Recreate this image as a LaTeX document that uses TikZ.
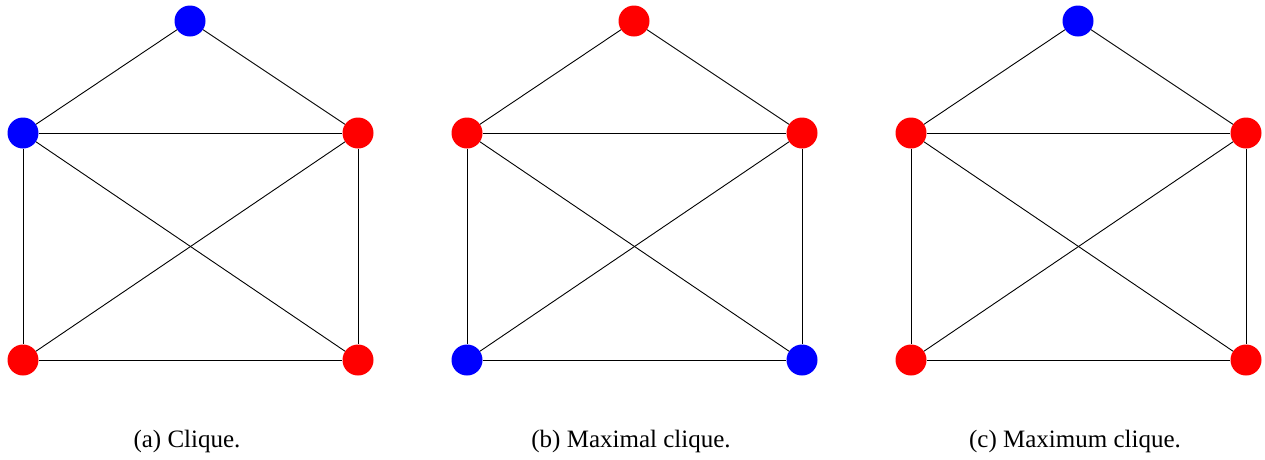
\documentclass[tikz,border=0pt]{standalone}
\usepackage{fontspec}
\setmainfont{Liberation Serif}
\begin{document}
\begin{tikzpicture}[x=1pt,y=-1pt,
  vert/.style={circle,inner sep=0pt,minimum size=31pt},
  rv/.style={vert,fill={rgb,255:red,255;green,0;blue,0}},
  bv/.style={vert,fill={rgb,255:red,0;green,0;blue,255}},
  edge/.style={black,line width=0.9pt},
  captext/.style={font=\fontsize{25}{29}\selectfont,anchor=base}]
\useasboundingbox (0,0) rectangle (1265,459);
\foreach \g/\dx/\ct/\cl/\cr/\cbl/\cbr/\txt in {
  a/0/bv/bv/rv/rv/rv/{(a) Clique.},
  b/444/rv/rv/rv/bv/bv/{(b) Maximal clique.},
  c/888/bv/rv/rv/rv/rv/{(c) Maximum clique.}}{
  \node[\ct] (\g t) at (190+\dx,21) {};
  \node[\cl] (\g l) at (23+\dx,133) {};
  \node[\cr] (\g r) at (358+\dx,133) {};
  \node[\cbl] (\g bl) at (23+\dx,360) {};
  \node[\cbr] (\g br) at (358+\dx,360) {};
  \draw[edge] (\g t) -- (\g l);
  \draw[edge] (\g t) -- (\g r);
  \draw[edge] (\g l) -- (\g r);
  \draw[edge] (\g l) -- (\g bl);
  \draw[edge] (\g r) -- (\g br);
  \draw[edge] (\g bl) -- (\g br);
  \draw[edge] (\g l) -- (\g br);
  \draw[edge] (\g r) -- (\g bl);
  \node[captext] (\g caption) at (187+\dx,447) {\txt};
}
\end{tikzpicture}
\end{document}
